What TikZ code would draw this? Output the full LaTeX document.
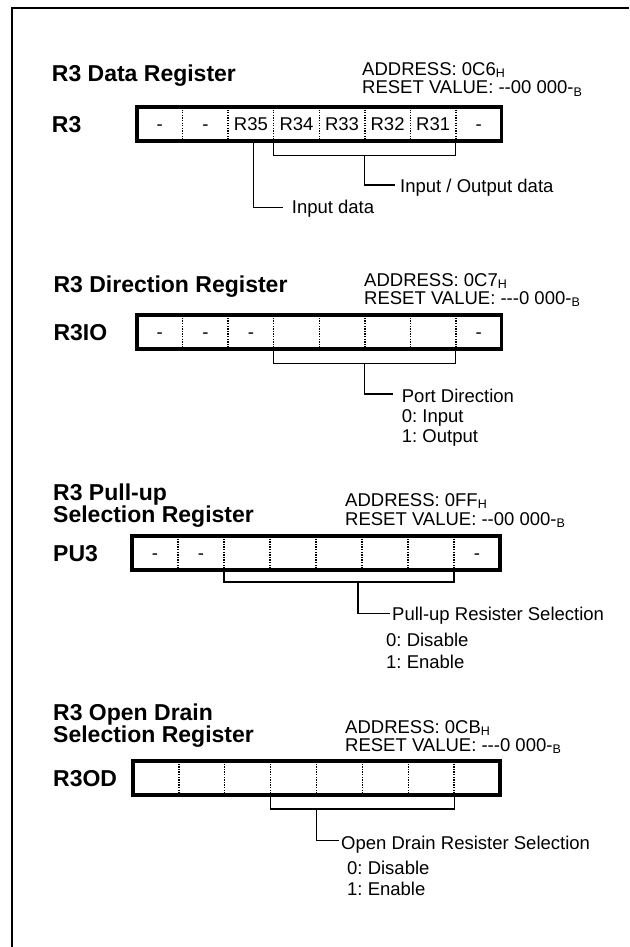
\documentclass[tikz,border=0pt]{standalone}
\usepackage{fontspec}
\setmainfont{Liberation Sans}[Ligatures=TeXOff]
\usetikzlibrary{calc}
\frenchspacing
\newcommand{\regsub}[1]{\raisebox{-2.2pt}{\fontsize{12.5}{12.5}\selectfont #1}}
\tikzset{
  regtitle/.style={anchor=base west, inner sep=0pt, align=left, font=\fontsize{23}{19.5}\selectfont\bfseries},
  reglabel/.style={anchor=base west, inner sep=0pt, font=\fontsize{23}{23}\selectfont\bfseries},
  txt/.style={anchor=base west, inner sep=0pt, font=\fontsize{18.5}{18.5}\selectfont},
  celltxt/.style={anchor=base, inner sep=0pt, font=\fontsize{18.5}{18.5}\selectfont},
  regbox/.style={draw, line width=3.6pt, inner sep=0pt, outer sep=0pt, minimum height=34pt},
  divider/.style={line width=1.4pt, dash pattern=on 1.3pt off 1.3pt},
  conn/.style={line width=1.1pt},
  frameline/.style={line width=2.2pt}
}
\begin{document}
\frenchspacing
\begin{tikzpicture}[x=1pt,y=-1pt]
\useasboundingbox (0,0) rectangle (629,947);
\draw[frameline] (12,947) -- (12,8) -- (629,8);

% ---------- Section 1 ----------
\node[regtitle] (t1) at (51.7,81.5) {R3 Data Register};
\node[txt] (a1) at (362,75.7) {ADDRESS: 0C6\regsub{H}};
\node[txt] (v1) at (362,94) {RESET VALUE: --00 000-\regsub{B}};
\node[reglabel] (l1) at (51.7,132.3) {R3};
\node[regbox, minimum width=364.5pt] (box1) at (319.25,124) {};
\foreach \k in {1,...,7}
  \draw[divider] ($(box1.north west)!\k/8!(box1.north east)$) -- ($(box1.south west)!\k/8!(box1.south east)$);
\foreach \i/\t in {1/-,2/-,3/R35,4/R34,5/R33,6/R32,7/R31,8/-}
  \node[celltxt] (c1\i) at ($(box1.west)+({(\i-0.5)*364.5/8},6.6)$) {\t};
\coordinate (b1l) at ($(box1.south west)!3/8!(box1.south east)$);
\coordinate (b1r) at ($(box1.south west)!7/8!(box1.south east)$);
\coordinate (b1m) at ($(box1.south west)!5/8!(box1.south east)$);
\coordinate (b1in) at (253.3,141);
\coordinate (e1io) at (395,185);
\coordinate (e1in) at (283.3,207.3);
\draw[conn] (b1l) -- ++(0,14.5) -| (b1r);
\draw[conn] (b1m) ++(0,14.5) |- (e1io);
\draw[conn] (b1in) |- (e1in);
\node[txt] (n1io) at (400,192.7) {Input / Output data};
\node[txt] (n1in) at (291.7,213.5) {Input data};

% ---------- Section 2 ----------
\node[regtitle] (t2) at (53.4,292) {R3 Direction Register};
\node[txt] (a2) at (364,286) {ADDRESS: 0C7\regsub{H}};
\node[txt] (v2) at (364,304.5) {RESET VALUE: ---0 000-\regsub{B}};
\node[reglabel] (l2) at (53.4,340.5) {R3IO};
\node[regbox, minimum width=364.5pt] (box2) at (319.25,332.25) {};
\foreach \k in {1,...,7}
  \draw[divider] ($(box2.north west)!\k/8!(box2.north east)$) -- ($(box2.south west)!\k/8!(box2.south east)$);
\foreach \i/\t in {1/-,2/-,3/-,8/-}
  \node[celltxt] (c2\i) at ($(box2.west)+({(\i-0.5)*364.5/8},6.6)$) {\t};
\coordinate (b2l) at ($(box2.south west)!3/8!(box2.south east)$);
\coordinate (b2r) at ($(box2.south west)!7/8!(box2.south east)$);
\coordinate (b2m) at ($(box2.south west)!5/8!(box2.south east)$);
\coordinate (e2) at (393.3,394);
\draw[conn] (b2l) -- ++(0,14.5) -| (b2r);
\draw[conn] (b2m) ++(0,14.5) |- (e2);
\node[txt] (n2a) at (401.7,402.7) {Port Direction};
\node[txt] (n2b) at (401.7,422.7) {0: Input};
\node[txt] (n2c) at (401.7,442.7) {1: Output};

% ---------- Section 3 ----------
\node[regtitle] (t3) at (53,522.5) {R3 Pull-up\\Selection Register};
\node[txt] (a3) at (345,506.7) {ADDRESS: 0FF\regsub{H}};
\node[txt] (v3) at (345,525) {RESET VALUE: --00 000-\regsub{B}};
\node[reglabel] (l3) at (53,561.2) {PU3};
\node[regbox, minimum width=368pt] (box3) at (316,553) {};
\foreach \k in {1,...,7}
  \draw[divider] ($(box3.north west)!\k/8!(box3.north east)$) -- ($(box3.south west)!\k/8!(box3.south east)$);
\foreach \i/\t in {1/-,2/-,8/-}
  \node[celltxt] (c3\i) at ($(box3.west)+({(\i-0.5)*368/8},6.6)$) {\t};
\coordinate (b3l) at ($(box3.south west)!2/8!(box3.south east)$);
\coordinate (b3r) at ($(box3.south west)!7/8!(box3.south east)$);
\coordinate (b3m) at (358,582);
\coordinate (e3) at (390,613.3);
\draw[conn] (b3l) -- ++(0,12) -| (b3r);
\draw[conn] (b3m) |- (e3);
\node[txt] (n3a) at (392,620) {Pull-up Resister Selection};
\node[txt] (n3b) at (386,646.7) {0: Disable};
\node[txt] (n3c) at (386,668) {1: Enable};

% ---------- Section 4 ----------
\node[regtitle] (t4) at (53,742.5) {R3 Open Drain\\Selection Register};
\node[txt] (a4) at (345,733) {ADDRESS: 0CB\regsub{H}};
\node[txt] (v4) at (345,751.7) {RESET VALUE: ---0 000-\regsub{B}};
\node[reglabel] (l4) at (53,786.2) {R3OD};
\node[regbox, minimum width=367pt] (box4) at (316.5,778) {};
\foreach \k in {1,...,7}
  \draw[divider] ($(box4.north west)!\k/8!(box4.north east)$) -- ($(box4.south west)!\k/8!(box4.south east)$);
\coordinate (b4l) at ($(box4.south west)!3/8!(box4.south east)$);
\coordinate (b4r) at ($(box4.south west)!7/8!(box4.south east)$);
\coordinate (b4m) at ($(box4.south west)!4/8!(box4.south east)$);
\coordinate (e4) at (339,840.7);
\draw[conn] (b4l) -- ++(0,14) -| (b4r);
\draw[conn] (b4m) ++(0,14) |- (e4);
\node[txt] (n4a) at (341,849) {Open Drain Resister Selection};
\node[txt] (n4b) at (347,874) {0: Disable};
\node[txt] (n4c) at (347,895.7) {1: Enable};
\end{tikzpicture}
\end{document}
